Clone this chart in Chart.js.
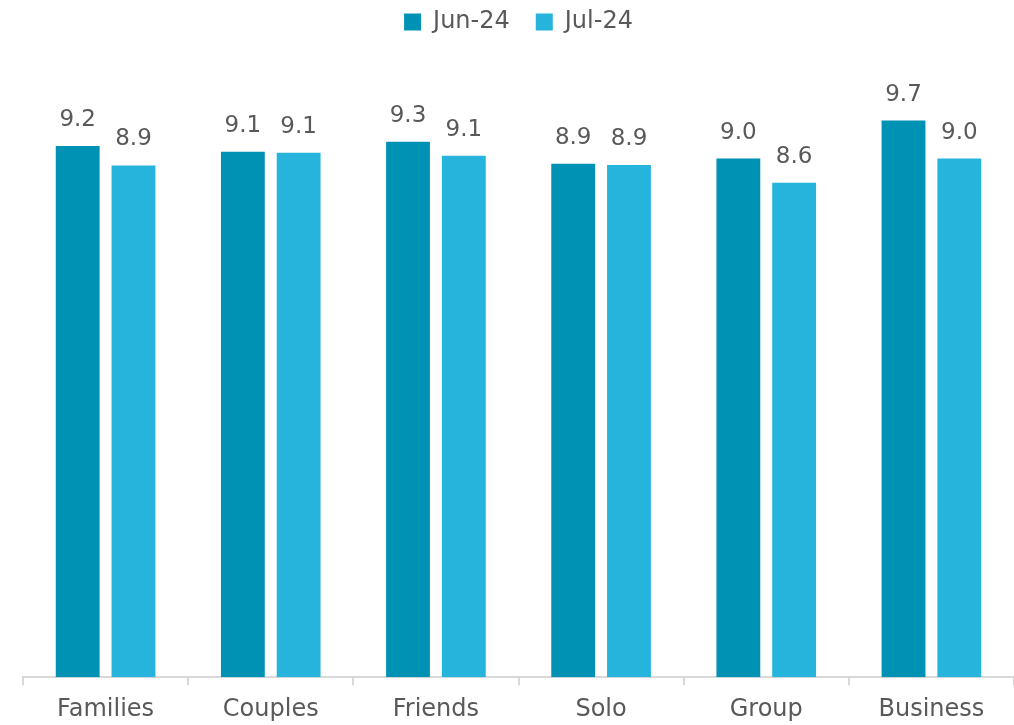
<!DOCTYPE html>
<html>
<head>
<meta charset="utf-8">
<script src="https://cdn.jsdelivr.net/npm/chart.js@4.4.1/dist/chart.umd.min.js"></script>
<style>
  html, body { margin: 0; padding: 0; background: #fff; }
  #wrap { width: 1014px; height: 725px; }
</style>
</head>
<body>
<div id="wrap"><canvas id="chart" width="1014" height="725"></canvas></div>
<script>
const CATEGORIES = ['Families', 'Couples', 'Friends', 'Solo', 'Group', 'Business'];
const SERIES_NAMES = ['Jun-24', 'Jul-24'];
const JUN_VALUES = [9.23, 9.13, 9.30, 8.92, 9.01, 9.67];
const JUL_VALUES = [8.89, 9.11, 9.06, 8.90, 8.59, 9.01];

const TEXT = '#595959';
const FONT = 'DejaVu Sans';

// value labels above each bar
const barLabels = {
  id: 'barLabels',
  afterDatasetsDraw(chart) {
    const ctx = chart.ctx;
    ctx.save();
    ctx.font = '23px "' + FONT + '"';
    ctx.fillStyle = TEXT;
    ctx.textAlign = 'center';
    ctx.textBaseline = 'alphabetic';
    chart.data.datasets.forEach((ds, i) => {
      chart.getDatasetMeta(i).data.forEach((bar, j) => {
        ctx.fillText(ds.data[j].toFixed(1), bar.x, bar.y - 20);
      });
    });
    ctx.restore();
  }
};

new Chart(document.getElementById('chart'), {
  type: 'bar',
  data: {
    labels: CATEGORIES,
    datasets: [
      { label: SERIES_NAMES[0], data: JUN_VALUES, backgroundColor: '#0092B5' },
      { label: SERIES_NAMES[1], data: JUL_VALUES, backgroundColor: '#26B3DC' },
    ],
  },
  options: {
    responsive: false,
    animation: false,
    layout: { padding: { left: 23, right: -4, top: -16, bottom: -9 } },
    datasets: { bar: { categoryPercentage: 0.6755, barPercentage: 0.786 } },
    plugins: {
      legend: {
        position: 'top',
        fullSize: false,
        labels: {
          color: TEXT,
          font: { family: FONT, size: 24 },
          boxWidth: 17,
          boxHeight: 17,
          padding: 26,
        },
      },
      tooltip: { enabled: false },
    },
    scales: {
      x: {
        grid: { drawOnChartArea: false, drawTicks: true, tickLength: 8, color: '#D9D9D9', lineWidth: 2 },
        border: { display: true, color: '#D9D9D9', width: 2 },
        ticks: { color: TEXT, font: { family: FONT, size: 24 }, padding: 10 },
      },
      y: {
        display: false,
        min: 0,
        max: 11,
      },
    },
  },
  plugins: [barLabels],
});
</script>
</body>
</html>
